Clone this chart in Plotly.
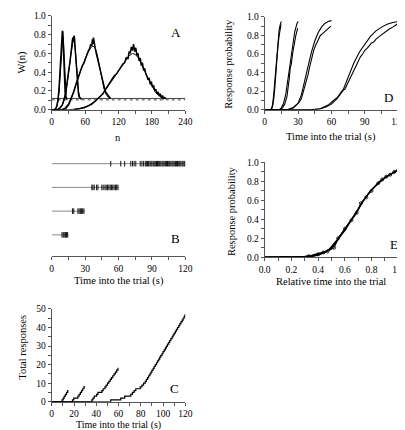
import plotly.graph_objects as go

W, H = 405, 430
FONT = "Liberation Serif, Times New Roman, DejaVu Serif, serif"

# ---------------- Panel A data: W(n) ----------------
a1_fit_n = [0, 6, 9, 11, 13, 15, 17, 19, 20, 21, 22, 23, 24, 25, 26, 28]
a1_fit_w = [0, 0, 0.03, 0.08, 0.18, 0.34, 0.54, 0.72, 0.78, 0.74, 0.62, 0.46, 0.32, 0.2, 0.14, 0.11]
a1_emp_n = [4, 7, 9, 11, 13, 15, 16, 17, 18, 19, 20, 21, 22, 23, 24, 25, 27]
a1_emp_w = [0, 0.01, 0.04, 0.1, 0.22, 0.4, 0.5, 0.62, 0.75, 0.84, 0.83, 0.65, 0.45, 0.3, 0.18, 0.13, 0.11]

a2_fit_n = [0, 10, 15, 20, 24, 28, 31, 34, 36, 38, 40, 42, 44, 46, 48, 50, 53]
a2_fit_w = [0, 0, 0.02, 0.06, 0.14, 0.28, 0.42, 0.57, 0.66, 0.72, 0.74, 0.66, 0.5, 0.33, 0.2, 0.14, 0.11]
a2_emp_n = [10, 15, 19, 22, 25, 27, 29, 31, 33, 34, 35, 36, 37, 38, 39, 40, 41, 42, 43, 44, 45, 46, 47, 48, 49, 51, 53]
a2_emp_w = [0, 0.02, 0.05, 0.1, 0.17, 0.26, 0.33, 0.44, 0.52, 0.6, 0.64, 0.7, 0.74, 0.77, 0.73, 0.79, 0.76, 0.66, 0.56, 0.45, 0.36, 0.28, 0.22, 0.17, 0.14, 0.12, 0.11]

a3_fit_n = [0, 15, 22, 30, 38, 45, 52, 58, 64, 70, 74, 78, 82, 86, 90, 94, 98, 102, 106]
a3_fit_w = [0, 0, 0.01, 0.06, 0.17, 0.3, 0.42, 0.51, 0.6, 0.66, 0.68, 0.66, 0.58, 0.46, 0.33, 0.22, 0.16, 0.13, 0.12]
a3_emp_n = [20, 26, 31, 35, 40, 44, 48, 51, 55, 58, 61, 64, 66, 68, 70, 72, 73, 74, 75, 76,
            77, 78, 80, 82, 84, 86, 88, 90, 92, 94, 96, 98, 100, 102, 104, 106]
a3_emp_w = [0, 0.02, 0.06, 0.12, 0.2, 0.28, 0.35, 0.4, 0.47, 0.5, 0.56, 0.6, 0.63, 0.65, 0.7, 0.68, 0.75, 0.7, 0.77, 0.72,
            0.7, 0.66, 0.6, 0.55, 0.5, 0.44, 0.38, 0.32, 0.27, 0.24, 0.2, 0.18, 0.16, 0.14, 0.13, 0.12]

a4_fit_n = [0, 30, 50, 65, 80, 90, 100, 110, 120, 130, 138, 145, 150, 156, 162, 168, 174, 180, 186, 192, 198, 204]
a4_fit_w = [0, 0, 0.01, 0.04, 0.1, 0.16, 0.24, 0.32, 0.41, 0.5, 0.57, 0.6, 0.59, 0.55, 0.48, 0.4, 0.32, 0.25, 0.19, 0.15, 0.13, 0.12]
a4_emp_n = [40, 50, 58, 65, 72, 78, 84, 88, 92, 96, 100, 104, 108, 112, 116, 120, 124, 128, 131, 134,
            137, 139, 141, 143, 145, 147, 149, 151, 153, 155, 157, 159, 161, 163, 165, 167, 169, 171, 173, 175,
            177, 179, 181, 183, 185, 187, 189, 191, 193, 195, 197, 199, 201, 203, 205]
a4_emp_w = [0, 0.01, 0.02, 0.04, 0.06, 0.09, 0.12, 0.15, 0.17, 0.21, 0.25, 0.28, 0.32, 0.36, 0.38, 0.42, 0.45, 0.49, 0.5, 0.56,
            0.54, 0.62, 0.6, 0.67, 0.63, 0.7, 0.62, 0.66, 0.58, 0.6, 0.52, 0.55, 0.47, 0.5, 0.42, 0.44, 0.38, 0.36, 0.32, 0.34,
            0.27, 0.3, 0.24, 0.26, 0.2, 0.22, 0.17, 0.19, 0.15, 0.17, 0.13, 0.15, 0.12, 0.13, 0.12]

a_line_n = [0, 240]
a_solid_level = 0.12
a_dotted_level = 0.105

# ---------------- Panel D data: response probability ----------------
d1_fit_t = [0, 5, 6, 7, 8, 9, 10, 11, 12, 13, 14, 15]
d1_fit_p = [0, 0, 0.01, 0.05, 0.15, 0.3, 0.48, 0.64, 0.77, 0.86, 0.92, 0.95]
d1_emp_t = [0, 6, 7, 8, 9, 10, 11, 12, 13, 14, 14.7]
d1_emp_p = [0, 0, 0.03, 0.1, 0.22, 0.4, 0.57, 0.7, 0.8, 0.88, 0.92]

d2_fit_t = [0, 13, 15, 17, 19, 21, 23, 25, 27, 29, 30]
d2_fit_p = [0, 0, 0.02, 0.07, 0.17, 0.33, 0.52, 0.7, 0.84, 0.93, 0.95]
d2_emp_t = [0, 14, 16, 18, 20, 21, 22, 23, 24, 25, 26, 27, 28, 29, 29.7]
d2_emp_p = [0, 0, 0.02, 0.06, 0.14, 0.22, 0.33, 0.45, 0.5, 0.6, 0.68, 0.75, 0.8, 0.85, 0.88]

d3_fit_t = [0, 20, 25, 30, 33, 36, 39, 42, 45, 48, 51, 54, 57, 60]
d3_fit_p = [0, 0, 0.02, 0.07, 0.16, 0.3, 0.47, 0.62, 0.74, 0.83, 0.89, 0.93, 0.95, 0.96]
d3_emp_t = [0, 22, 26, 29, 31, 33, 35, 37, 38, 39, 40, 41, 42, 44, 46, 48, 50, 52, 54, 56, 58, 59.5]
d3_emp_p = [0, 0, 0.02, 0.05, 0.08, 0.12, 0.2, 0.28, 0.33, 0.38, 0.44, 0.5, 0.55, 0.64, 0.7, 0.76, 0.8, 0.82, 0.84, 0.86, 0.88, 0.9]

d4_fit_t = [0, 40, 50, 55, 60, 65, 70, 75, 80, 85, 90, 95, 100, 105, 110, 115, 120]
d4_fit_p = [0, 0, 0.01, 0.03, 0.06, 0.12, 0.2, 0.35, 0.5, 0.62, 0.71, 0.79, 0.85, 0.89, 0.92, 0.94, 0.95]
d4_emp_t = [0, 45, 50, 54, 57, 60, 62, 64, 66, 68, 70, 72, 74, 76, 78, 80, 82, 84, 86, 88,
            90, 92, 94, 96, 98, 100, 103, 106, 109, 112, 115, 118, 120]
d4_emp_p = [0, 0, 0.01, 0.03, 0.05, 0.08, 0.1, 0.12, 0.14, 0.18, 0.21, 0.22, 0.27, 0.33, 0.38, 0.43, 0.47, 0.52, 0.57, 0.6,
            0.64, 0.66, 0.69, 0.72, 0.73, 0.76, 0.79, 0.82, 0.85, 0.87, 0.89, 0.91, 0.93]

# ---------------- Panels B & C data: response times ----------------
trial_lengths = [15, 30, 60, 120]
resp_15 = [9.2, 10.3, 11.2, 12.3, 13.3, 14.3]
resp_30 = [18.6, 19.8, 23.5, 24.6, 25.7, 26.8, 27.8, 28.9]
resp_60 = [36.0, 37.0, 38.2, 40.3, 41.5, 45.0, 46.2, 47.8, 48.9, 50.1, 51.3, 52.5, 53.6, 54.8, 56.0, 57.2, 58.3, 59.5]
resp_120 = [53.0, 62.0, 65.5, 71.0, 72.5, 74.0, 75.5, 79.5, 81.0, 82.5, 84.0, 85.0,
            86.1, 87.0, 88.2, 89.1, 90.0, 91.1, 92.0, 93.0, 94.1, 95.0, 96.1, 97.0, 98.0, 99.1, 100.0,
            101.0, 102.1, 103.0, 104.0, 105.1, 106.0, 107.0, 108.1, 109.0, 110.0, 111.1, 112.0, 113.0,
            114.1, 115.0, 116.0, 117.1, 118.0, 119.0, 119.8]
raster_rows = [1, 2, 3, 4]

# ---------------- Panel E data: relative time ----------------
e_fit_x = [0, 0.2, 0.3, 0.35, 0.4, 0.45, 0.5, 0.55, 0.6, 0.65, 0.7, 0.75, 0.8, 0.85, 0.9, 0.95, 1.0]
e_fit_p = [0, 0, 0.005, 0.012, 0.025, 0.05, 0.1, 0.19, 0.29, 0.4, 0.51, 0.62, 0.71, 0.78, 0.84, 0.88, 0.92]
e1_x = [0, 0.3, 0.35, 0.4, 0.45, 0.5, 0.53, 0.56, 0.6, 0.64, 0.68, 0.72, 0.76, 0.8, 0.84, 0.88, 0.92, 0.96, 1.0]
e1_p = [0, 0.01, 0.02, 0.04, 0.06, 0.09, 0.14, 0.21, 0.28, 0.37, 0.45, 0.56, 0.64, 0.71, 0.77, 0.82, 0.86, 0.89, 0.92]
e2_x = [0, 0.35, 0.4, 0.45, 0.48, 0.5, 0.54, 0.58, 0.62, 0.66, 0.7, 0.74, 0.78, 0.82, 0.86, 0.9, 0.94, 0.98]
e2_p = [0, 0.005, 0.02, 0.05, 0.08, 0.11, 0.18, 0.26, 0.34, 0.42, 0.5, 0.6, 0.68, 0.74, 0.8, 0.84, 0.87, 0.91]
e3_x = [0.33, 0.4, 0.44, 0.47, 0.52, 0.55, 0.6, 0.65, 0.69, 0.72, 0.76, 0.8, 0.85, 0.88, 0.91, 0.94, 0.97, 1.0]
e3_p = [0.01, 0.03, 0.05, 0.06, 0.1, 0.2, 0.3, 0.39, 0.47, 0.57, 0.63, 0.7, 0.78, 0.82, 0.85, 0.87, 0.9, 0.92]


def dx(p0, p1):
    return [p0 / W, p1 / W]


def dy(pb, pt):
    return [1 - pb / H, 1 - pt / H]


fig = go.Figure()


def line(x, y, ax, width=1.0, color="black", dash=None, shape="linear", mode="lines", marker=None):
    fig.add_trace(go.Scatter(x=x, y=y, mode=mode, xaxis="x" + ax, yaxis="y" + ax,
                             line=dict(color=color, width=width, dash=dash, shape=shape),
                             marker=marker, showlegend=False, hoverinfo="skip"))


# Panel A
line(a_line_n, [a_solid_level] * 2, "", 1.0, "#444")
line(a_line_n, [a_dotted_level] * 2, "", 1.0, "#444", dash="dot")
for (fn, fw, en, ew) in [(a1_fit_n, a1_fit_w, a1_emp_n, a1_emp_w), (a2_fit_n, a2_fit_w, a2_emp_n, a2_emp_w),
                         (a3_fit_n, a3_fit_w, a3_emp_n, a3_emp_w), (a4_fit_n, a4_fit_w, a4_emp_n, a4_emp_w)]:
    line(en, ew, "", 1.5)
    line(fn, fw, "", 1.0)

# Panel D
for (ft, fp, et, ep) in [(d1_fit_t, d1_fit_p, d1_emp_t, d1_emp_p), (d2_fit_t, d2_fit_p, d2_emp_t, d2_emp_p),
                         (d3_fit_t, d3_fit_p, d3_emp_t, d3_emp_p), (d4_fit_t, d4_fit_p, d4_emp_t, d4_emp_p)]:
    line(ft, fp, "2", 1.1)
    line(et, ep, "2", 1.1)

# Panel B (raster)
resp_all = [resp_15, resp_30, resp_60, resp_120]
for row, T, resp in zip(raster_rows, trial_lengths, resp_all):
    line([0, T], [row, row], "3", 1.0, "#888")
    fig.add_trace(go.Scatter(x=resp, y=[row] * len(resp), mode="markers", xaxis="x3", yaxis="y3",
                             marker=dict(symbol="line-ns", size=4, line=dict(color="#111", width=1)),
                             showlegend=False, hoverinfo="skip"))

# Panel C (cumulative)
for T, resp in zip(trial_lengths, resp_all):
    xs = [0] + resp + [T]
    ys = [0] + list(range(1, len(resp) + 1)) + [len(resp)]
    line(xs, ys, "5", 1.2, shape="hv")

# Panel E
line(e_fit_x, e_fit_p, "4", 1.2)
line(e1_x, e1_p, "4", 1.2)
line(e2_x, e2_p, "4", 1.2)
line(e3_x, e3_p, "4", 1.0, mode="lines+markers",
     marker=dict(symbol="circle-open", size=3, color="black", line=dict(width=0.8)))

axis_common = dict(showline=True, linecolor="#555", linewidth=1, ticks="outside", ticklen=3,
                   tickcolor="#555", showgrid=False, zeroline=False,
                   tickfont=dict(family=FONT, size=9.5, color="black"))


def minor(d):
    return dict(ticks="outside", ticklen=3, dtick=d, tickcolor="#555", showgrid=False)


fig.update_layout(
    width=W, height=H, margin=dict(l=0, r=0, t=0, b=0),
    paper_bgcolor="white", plot_bgcolor="white",
    font=dict(family=FONT),
    xaxis=dict(domain=dx(39, 177), range=[0, 240], tickvals=[0, 60, 120, 180, 240], minor=minor(30),
               anchor="y", **axis_common),
    yaxis=dict(domain=dy(99, 3), range=[0, 1], tickvals=[0, 0.2, 0.4, 0.6, 0.8, 1.0], tickformat=".1f",
               minor=minor(0.1), anchor="x", **axis_common),
    xaxis2=dict(domain=dx(259, 397), range=[0, 120], tickvals=[0, 30, 60, 90, 120], minor=minor(15),
                anchor="y2", **axis_common),
    yaxis2=dict(domain=dy(99, 4), range=[0, 1], tickvals=[0, 0.2, 0.4, 0.6, 0.8, 1.0], tickformat=".1f",
                minor=minor(0.1), anchor="x2", **axis_common),
    xaxis3=dict(domain=dx(39, 177), range=[0, 120], tickvals=[0, 30, 60, 90, 120], minor=minor(15),
                anchor="y3", **axis_common),
    yaxis3=dict(domain=dy(249, 130), range=[0.1, 5], visible=False, anchor="x3"),
    xaxis4=dict(domain=dx(259, 397), range=[0, 1], tickvals=[0, 0.2, 0.4, 0.6, 0.8, 1.0], tickformat=".1f",
                minor=minor(0.1), anchor="y4", **axis_common),
    yaxis4=dict(domain=dy(250, 153), range=[0, 1], tickvals=[0, 0.2, 0.4, 0.6, 0.8, 1.0], tickformat=".1f",
                minor=minor(0.1), anchor="x4", **axis_common),
    xaxis5=dict(domain=dx(39, 177), range=[0, 120], tickvals=[0, 20, 40, 60, 80, 100, 120], minor=minor(10),
                anchor="y5", **axis_common),
    yaxis5=dict(domain=dy(398, 303), range=[0, 50], tickvals=[0, 10, 20, 30, 40, 50], minor=minor(5),
                anchor="x5", **axis_common),
)


def txt(s, px, py, size=10.5, angle=0):
    fig.add_annotation(text=s, x=px / W, y=1 - py / H, xref="paper", yref="paper", showarrow=False,
                       textangle=angle, xanchor="center", yanchor="middle", borderpad=0,
                       font=dict(family=FONT, size=size, color="black"))


txt("W(n)", 8, 50, 10.5, -90)
txt("n", 107, 127)
txt("Response probability", 222, 52, 10.5, -90)
txt("Time into the trial (s)", 328, 127)
txt("Time into the trial (s)", 108, 274)
txt("Response probability", 224, 203, 10.5, -90)
txt("Relative time into the trial", 328, 275)
txt("Total responses", 8, 342, 10.5, -90)
txt("Time into the trial (s)", 108, 421.5, 10)
txt("A", 167, 20, 13)
txt("D", 387, 87, 13)
txt("B", 167, 231, 13)
txt("E", 393, 237, 13)
txt("C", 166, 384, 13)

fig.write_html("out.html")
